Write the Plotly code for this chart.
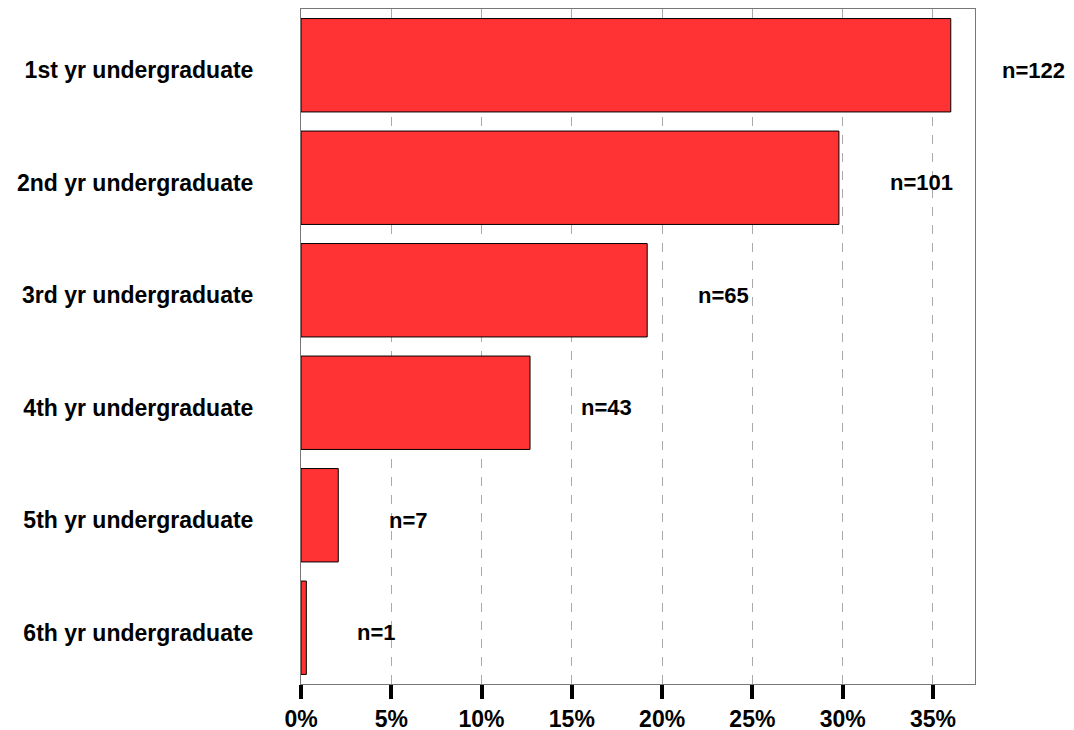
import plotly.graph_objects as go

categories = ["1st yr undergraduate", "2nd yr undergraduate", "3rd yr undergraduate",
              "4th yr undergraduate", "5th yr undergraduate", "6th yr undergraduate"]
counts = [122, 101, 65, 43, 7, 1]
total = sum(counts)
percents = [c / total * 100 for c in counts]
tick_vals = [0, 5, 10, 15, 20, 25, 30, 35]
tick_text = ["0%", "5%", "10%", "15%", "20%", "25%", "30%", "35%"]

fig = go.Figure()
fig.add_trace(go.Bar(
    x=percents, y=categories, orientation="h",
    marker=dict(color="#FF3333", line=dict(color="black", width=1)),
    hoverinfo="skip",
))

for cat, p, c in zip(categories, percents, counts):
    fig.add_annotation(x=p, y=cat, xref="x", yref="y", text=f"n={c}", showarrow=False,
                       xanchor="left", yanchor="middle", xshift=49, yshift=-5,
                       font=dict(family="Liberation Sans, Arial", size=22, color="black", weight="bold"))

fig.update_layout(
    width=1066, height=723,
    margin=dict(l=293, r=99, t=1, b=47, autoexpand=False),
    plot_bgcolor="white", paper_bgcolor="white",
    showlegend=False,
    bargap=0.17,
    font=dict(family="Liberation Sans, Arial", color="black"),
)
fig.update_xaxes(
    range=[0, 37.33], tickvals=tick_vals, ticktext=tick_text,
    ticks="outside", ticklen=14, tickwidth=4, tickcolor="black",
    tickfont=dict(size=23, weight="bold", color="black"),
    showgrid=True, gridcolor="#aaaaaa", griddash="dash", gridwidth=1,
    showline=True, linecolor="#777777", linewidth=1, mirror=True,
    zeroline=False, fixedrange=True, automargin=False,
)
fig.update_yaxes(
    categoryorder="array", categoryarray=categories[::-1],
    tickfont=dict(size=23, weight="bold", color="black"),
    ticks="", ticklabelstandoff=42, ticklabelshift=5,
    showline=True, linecolor="#777777", linewidth=1, mirror=True,
    showgrid=False, fixedrange=True, automargin=False,
)

fig.write_html("out.html")
